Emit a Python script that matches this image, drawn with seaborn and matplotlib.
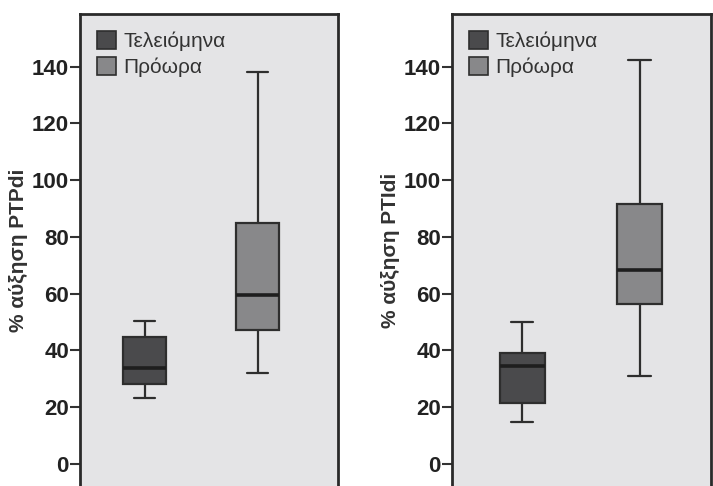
import numpy as np
import pandas as pd
import matplotlib
matplotlib.use("Agg")
import matplotlib.pyplot as plt
import seaborn as sns
from matplotlib.patches import Patch

# five-number summaries: min, Q1, median, Q3, max
groups = ["Τελειόμηνα", "Πρόωρα"]
ptpdi_term = [23.4, 28.1, 33.9, 44.6, 50.5]
ptpdi_preterm = [32.0, 47.2, 59.5, 85.0, 138.2]
ptidi_term = [14.9, 21.4, 34.5, 39.2, 50.0]
ptidi_preterm = [31.0, 56.3, 68.4, 91.5, 142.4]
y_ticks = [0, 20, 40, 60, 80, 100, 120, 140]
y_labels = ["% αύξηση PTPdi", "% αύξηση PTIdi"]

colors = ["#4a4a4c", "#88888a"]
edge = "#2e2e2e"
bg = "#e4e4e6"

sns.set_theme(style="white")
plt.rcParams["font.family"] = ["Liberation Sans", "DejaVu Sans"]


def make_df(term, preterm):
    return pd.DataFrame({
        "group": [groups[0]] * len(term) + [groups[1]] * len(preterm),
        "value": term + preterm,
    })


fig = plt.figure(figsize=(7.13, 4.86), dpi=100)
ax1 = fig.add_axes([80 / 713, 0, 258 / 713, 472 / 486])
ax2 = fig.add_axes([452 / 713, 0, 259 / 713, 472 / 486])

panels = [
    (ax1, make_df(ptpdi_term, ptpdi_preterm), y_labels[0], (-0.57, 1.71)),
    (ax2, make_df(ptidi_term, ptidi_preterm), y_labels[1], (-0.60, 1.61)),
]

for ax, df, ylab, xl in panels:
    sns.boxplot(data=df, x="group", y="value", hue="group", order=groups,
                hue_order=groups, palette=colors, width=0.38, whis=np.inf,
                linewidth=1.6, linecolor=edge, legend=False, ax=ax,
                medianprops=dict(color="#1e1e1e", linewidth=2.6))
    ax.set_facecolor(bg)
    ax.set_xlim(*xl)
    ax.set_ylim(-7.75, 158.5)
    ax.set_yticks(y_ticks)
    ax.set_yticklabels([str(t) for t in y_ticks],
                       fontsize=16, fontweight="bold", color="#222222")
    ax.tick_params(axis="y", direction="out", length=7, width=1.5,
                   color="#333333", pad=1, left=True)
    ax.tick_params(axis="x", bottom=False, labelbottom=False)
    ax.set_xlabel("")
    ax.set_ylabel(ylab, fontsize=15, fontweight="bold", color="#333333", labelpad=3)
    for side in ["left", "right", "top"]:
        ax.spines[side].set_visible(True)
        ax.spines[side].set_color("#2a2a2a")
        ax.spines[side].set_linewidth(2)
    ax.spines["bottom"].set_visible(False)

    handles = [Patch(facecolor=c, edgecolor=edge, linewidth=1.2) for c in colors]
    ax.legend(handles, groups, loc="upper left", frameon=False, fontsize=15,
              handlelength=0.95, handleheight=0.95, handletextpad=0.35,
              labelspacing=0.3, borderaxespad=0.4, labelcolor="#333333")

fig.savefig("out.png", dpi=100, facecolor="white")
